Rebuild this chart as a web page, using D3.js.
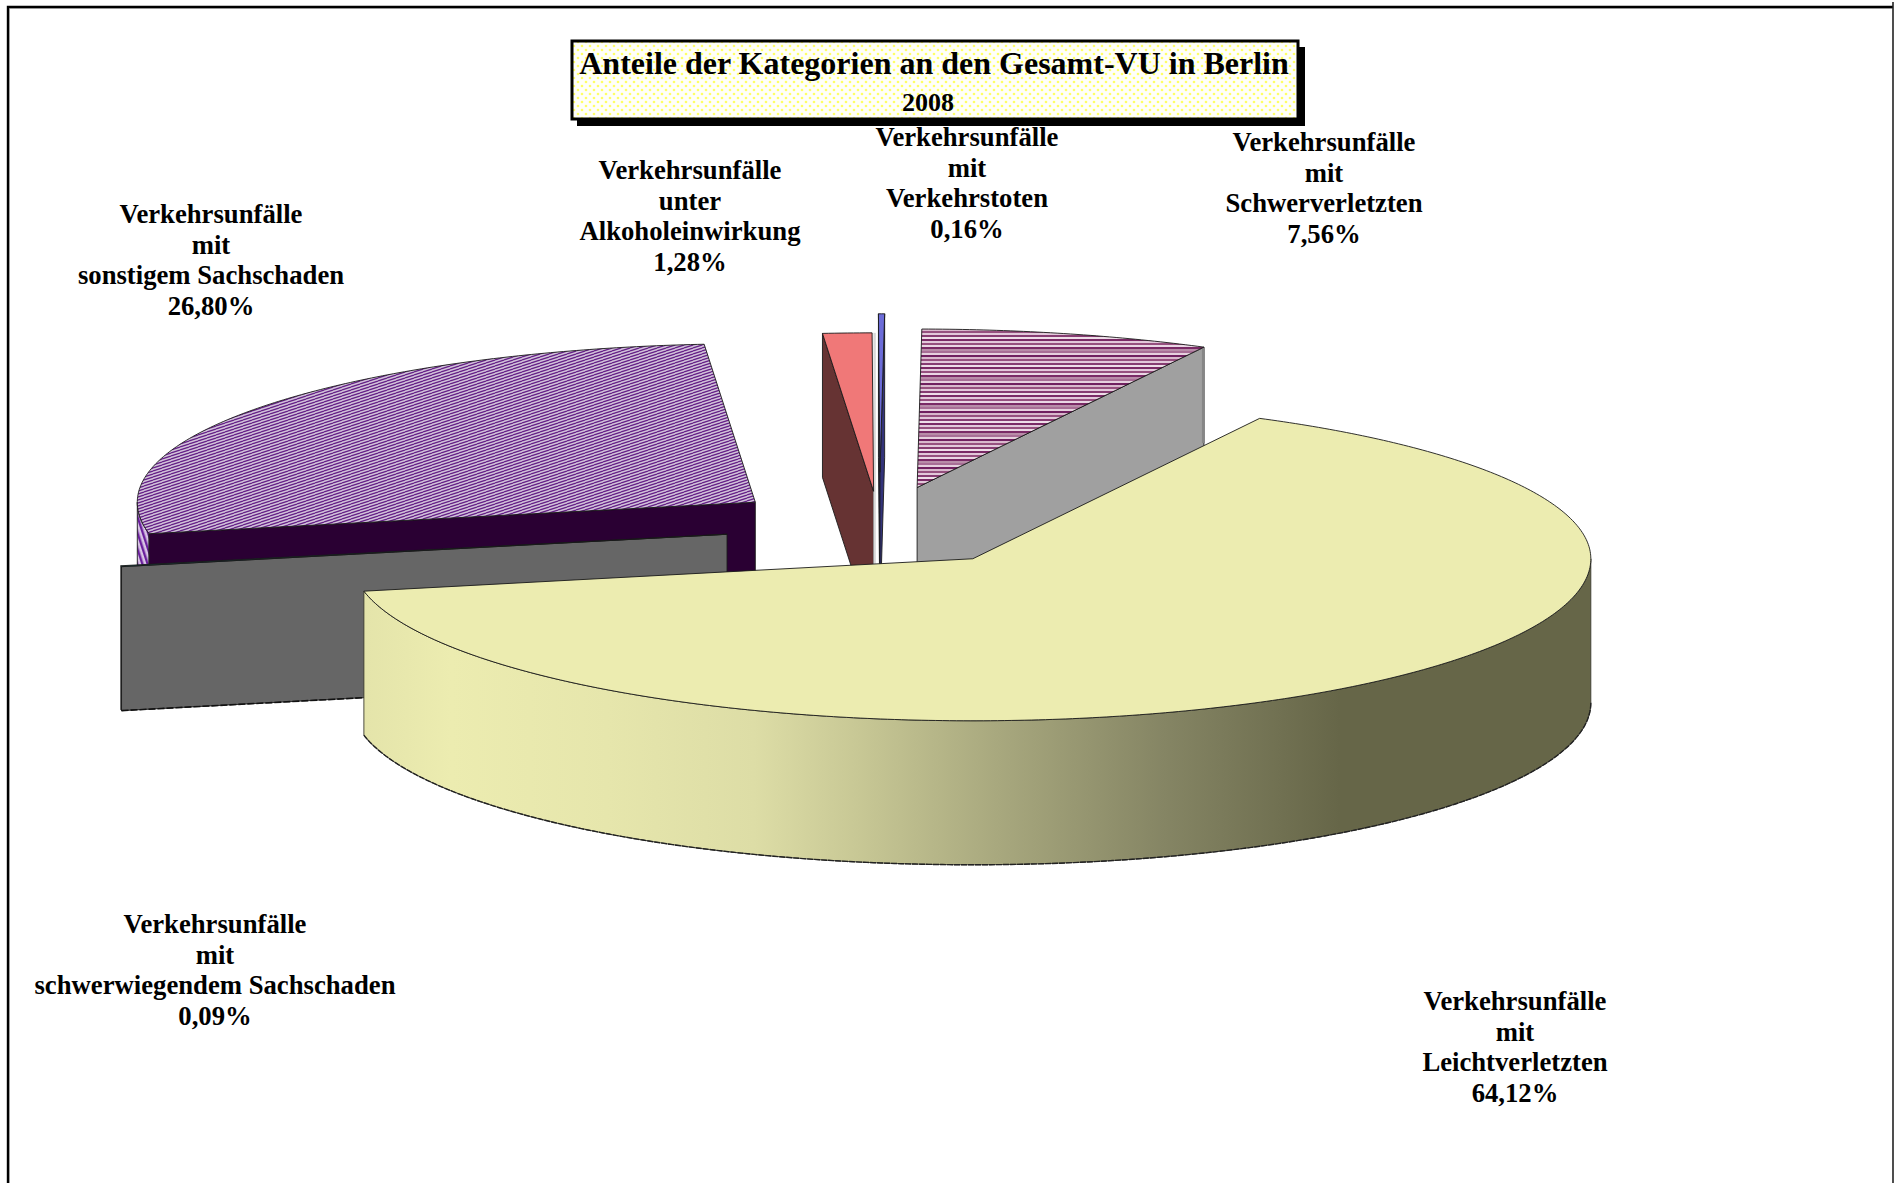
<!DOCTYPE html>
<html lang="de">
<head>
<meta charset="utf-8">
<title>Anteile der Kategorien an den Gesamt-VU in Berlin 2008</title>
<script src="https://cdn.jsdelivr.net/npm/d3@7"></script>
<style>
html,body{margin:0;padding:0;background:#fff;overflow:hidden}
svg{display:block}
text{font-family:"Liberation Serif","Times New Roman",serif;font-weight:bold;fill:#000}
</style>
</head>
<body>
<svg id="chart" width="1894" height="1183"></svg>
<script>
// ---------- data ----------
const titleLine = "Anteile der Kategorien an den Gesamt-VU in Berlin";
const yearLine = "2008";
const categoryLines = [
  ["Verkehrsunfälle", "mit", "Leichtverletzten"],
  ["Verkehrsunfälle", "mit", "schwerwiegendem Sachschaden"],
  ["Verkehrsunfälle", "mit", "sonstigem Sachschaden"],
  ["Verkehrsunfälle", "unter", "Alkoholeinwirkung"],
  ["Verkehrsunfälle", "mit", "Verkehrstoten"],
  ["Verkehrsunfälle", "mit", "Schwerverletzten"]
];
const shareLabels = ["64,12%", "0,09%", "26,80%", "1,28%", "0,16%", "7,56%"];
const shareValues = [64.12, 0.09, 26.80, 1.28, 0.16, 7.56];

// ---------- layout (separate from the data) ----------
const W = 1894, H = 1183;
const baseX = 879.4, baseY = 526.2, depth = 144;
const rotation = -62.35 * Math.PI / 180;
const explode = [0.2515, 0.2515, 0.2515, 0.22, 0.34, 0.2515];
const leftReach = [621.5, 618, 618, 618, 618, 618];
const labelAt = [[1515, 1010], [215, 933], [211, 223], [690, 179], [967, 146], [1324, 151]];
const topFill = ["#ECECB0", "#1E5F5F", "url(#hatchPurple)", "#F07878", "#6C6CD8", "url(#stripeRose)"];
const startWallFill = ["none", "#666666", "#2A0033", "#663333", "#33337A", "none"];
const endWallFill = ["none", "none", "none", "none", "#33337A", "#A0A0A0"];
const outerFill = ["url(#leichtShade)", "#666666", "url(#hatchPurpleSide)", "#663333", "#33337A", "#888888"];
const drawOrder = [2, 1, 3, 4, 5, 0];

const svg = d3.select("#chart");
const defs = svg.append("defs");

const dots = defs.append("pattern").attr("id", "titleDots").attr("patternUnits", "userSpaceOnUse")
  .attr("width", 8).attr("height", 8);
dots.append("rect").attr("width", 8).attr("height", 8).attr("fill", "#FFFFFA");
[[2, 2], [6, 6]].forEach(p => dots.append("circle").attr("cx", p[0]).attr("cy", p[1]).attr("r", 1.3).attr("fill", "#FFFF66"));

const hatch = defs.append("pattern").attr("id", "hatchPurple").attr("patternUnits", "userSpaceOnUse")
  .attr("width", 9).attr("height", 3);
hatch.append("rect").attr("width", 9).attr("height", 3).attr("fill", "#D2C2DA");
[-3, 0, 3].forEach(o => hatch.append("line").attr("x1", 0).attr("y1", o + 3).attr("x2", 9).attr("y2", o)
  .attr("stroke", "#641F86").attr("stroke-width", 1.25));

const hatchSide = defs.append("pattern").attr("id", "hatchPurpleSide").attr("patternUnits", "userSpaceOnUse")
  .attr("width", 5).attr("height", 8).attr("patternTransform", "rotate(-18)");
hatchSide.append("rect").attr("width", 5).attr("height", 8).attr("fill", "#D8C4E4");
hatchSide.append("rect").attr("width", 2.4).attr("height", 8).attr("fill", "#6A1F9C");

const stripeRows = ["#7A2A66", "#E2C8DA", "#96507F", "#EAD6E4", "#7A2A66", "#B88CA8", "#A86E96", "#E6D0DE", "#702060", "#D8B8CC", "#96507F", "#E2C8DA", "#863C72", "#EEDDE8"];
const stripe = defs.append("pattern").attr("id", "stripeRose").attr("patternUnits", "userSpaceOnUse")
  .attr("width", 20).attr("height", stripeRows.length * 2).attr("y", 3);
stripeRows.forEach((c, i) => stripe.append("rect").attr("y", i * 2).attr("width", 20).attr("height", 2).attr("fill", c));

const shade = defs.append("linearGradient").attr("id", "leichtShade").attr("gradientUnits", "userSpaceOnUse")
  .attr("x1", 363).attr("x2", 1340).attr("y1", 0).attr("y2", 0);
[[0, "#E4E4AA"], [0.09, "#ECECB0"], [0.25, "#E6E6AC"], [0.40, "#DDDDA6"], [0.50, "#C9C996"], [0.65, "#A8A87E"], [0.82, "#858564"], [1, "#666648"]]
  .forEach(s => shade.append("stop").attr("offset", s[0]).attr("stop-color", s[1]));

// ---------- projection of the pie disc ----------
const xUnit = d3.scaleLinear().domain([-1, 0, 1]).range([-618, 0, 618]);
const yUnit = d3.scaleLinear().domain([-1, 0, 1]).range([-158.5, 0, 162]);
const pie = d3.pie().sort(null).value(d => d).startAngle(0).endAngle(2 * Math.PI);
const arcs = pie(shareValues);

function screenAngle(a) { return a + rotation; }
function onRim(c, t, i) {
  const u = Math.cos(t);
  const x = u < 0 ? u * leftReach[i] : xUnit(u);
  return [c[0] + x, c[1] + yUnit(Math.sin(t))];
}
function drop(p) { return [p[0], p[1] + depth]; }
const poly = d3.line();
function rimPoints(c, t0, t1, i) {
  const n = Math.max(2, Math.ceil((t1 - t0) * 90));
  return d3.range(n + 1).map(k => onRim(c, t0 + (t1 - t0) * k / n, i));
}

const edge = { stroke: "#1a1a1a", "stroke-width": 0.9, "stroke-linejoin": "round" };
function styled(sel, fill) {
  sel.attr("fill", fill);
  Object.entries(edge).forEach(([k, v]) => sel.attr(k, v));
  return sel;
}

const pieLayer = svg.append("g").attr("class", "pie");
drawOrder.forEach(i => {
  const a = arcs[i];
  const t0 = screenAngle(a.startAngle), t1 = screenAngle(a.endAngle), mid = (t0 + t1) / 2;
  const c = [baseX + xUnit(Math.cos(mid)) * explode[i], baseY + yUnit(Math.sin(mid)) * explode[i]];
  const g = pieLayer.append("g").attr("class", "slice").attr("data-share", shareLabels[i]);

  // outer wall: the part of the rim that faces the viewer
  const wallSpans = [[0, Math.PI], [2 * Math.PI, 3 * Math.PI], [-2 * Math.PI, -Math.PI]]
    .map(s => [Math.max(s[0], t0), Math.min(s[1], t1)]).filter(s => s[1] > s[0]);
  wallSpans.forEach(s => {
    const rim = rimPoints(c, s[0], s[1], i);
    styled(g.append("path").attr("d", poly(rim.concat(rim.map(drop).reverse())) + "Z"), outerFill[i])
      .attr("stroke", i === 0 ? "#3a3a30" : "#1a1a1a");
    if (i === 0 || i === 2) {
      g.append("path").attr("d", poly(rim.map(drop))).attr("fill", "none")
        .attr("stroke", "#222").attr("stroke-width", 1.4).attr("stroke-dasharray", "6 1");
    }
  });

  // cut faces
  [[t0, startWallFill[i]], [t1, endWallFill[i]]].forEach(([t, fill]) => {
    if (fill === "none") return;
    const r = onRim(c, t, i);
    styled(g.append("path").attr("d", poly([c, r, drop(r), drop(c)]) + "Z"), fill);
  });

  // dark edge under the grey slab
  if (i === 1) {
    const r = onRim(c, t0, i);
    g.append("path").attr("d", poly([drop(r), drop(c)])).attr("fill", "none")
      .attr("stroke", "#111").attr("stroke-width", 1.6).attr("stroke-dasharray", "7 2");
  }

  // thin lit sides next to the two back slices
  if (i === 3) {
    const r = onRim(c, t1, i);
    g.append("path").attr("d", poly([[r[0] + 2.5, r[1]], [r[0] + 2.5, r[1] + 232]])).attr("fill", "none")
      .attr("stroke", "#D8D8D8").attr("stroke-width", 2.4);
  }
  if (i === 5) {
    const r = onRim(c, t1, i);
    g.append("path").attr("d", poly([[r[0] - 0.5, r[1]], [r[0] - 0.5, r[1] + 96]])).attr("fill", "none")
      .attr("stroke", "#868686").attr("stroke-width", 3);
  }

  // top face
  styled(g.append("path").attr("d", poly([c].concat(rimPoints(c, t0, t1, i))) + "Z"), topFill[i]);
});

// ---------- labels ----------
const labels = svg.append("g").attr("class", "labels");
categoryLines.forEach((lines, i) => {
  const t = labels.append("text").attr("text-anchor", "middle").attr("font-size", 26.7)
    .attr("x", labelAt[i][0]).attr("y", labelAt[i][1]);
  lines.concat([shareLabels[i]]).forEach((l, k) => {
    t.append("tspan").attr("x", labelAt[i][0]).attr("y", labelAt[i][1] + k * 30.5).text(l);
  });
});

// ---------- title box ----------
const title = svg.append("g").attr("class", "title");
title.append("rect").attr("x", 577).attr("y", 47).attr("width", 728).attr("height", 79).attr("fill", "#000");
title.append("rect").attr("x", 572).attr("y", 41).attr("width", 726).attr("height", 78)
  .attr("fill", "url(#titleDots)").attr("stroke", "#000").attr("stroke-width", 3);
title.append("text").attr("x", 934).attr("y", 74).attr("text-anchor", "middle").attr("font-size", 32).text(titleLine);
title.append("text").attr("x", 928).attr("y", 111).attr("text-anchor", "middle").attr("font-size", 26).text(yearLine);

// ---------- page frame ----------
const frame = svg.append("g").attr("class", "frame").attr("fill", "none");
frame.append("path").attr("d", poly([[9.5, H], [9.5, 8.5], [1892, 8.5]])).attr("stroke", "#C8C8C8").attr("stroke-width", 1);
frame.append("path").attr("d", poly([[8, H], [8, 7], [1893, 7]])).attr("stroke", "#000").attr("stroke-width", 2.4);
frame.append("path").attr("d", poly([[1893, 2], [1893, H]])).attr("stroke", "#222").attr("stroke-width", 1.6);
</script>
</body>
</html>
